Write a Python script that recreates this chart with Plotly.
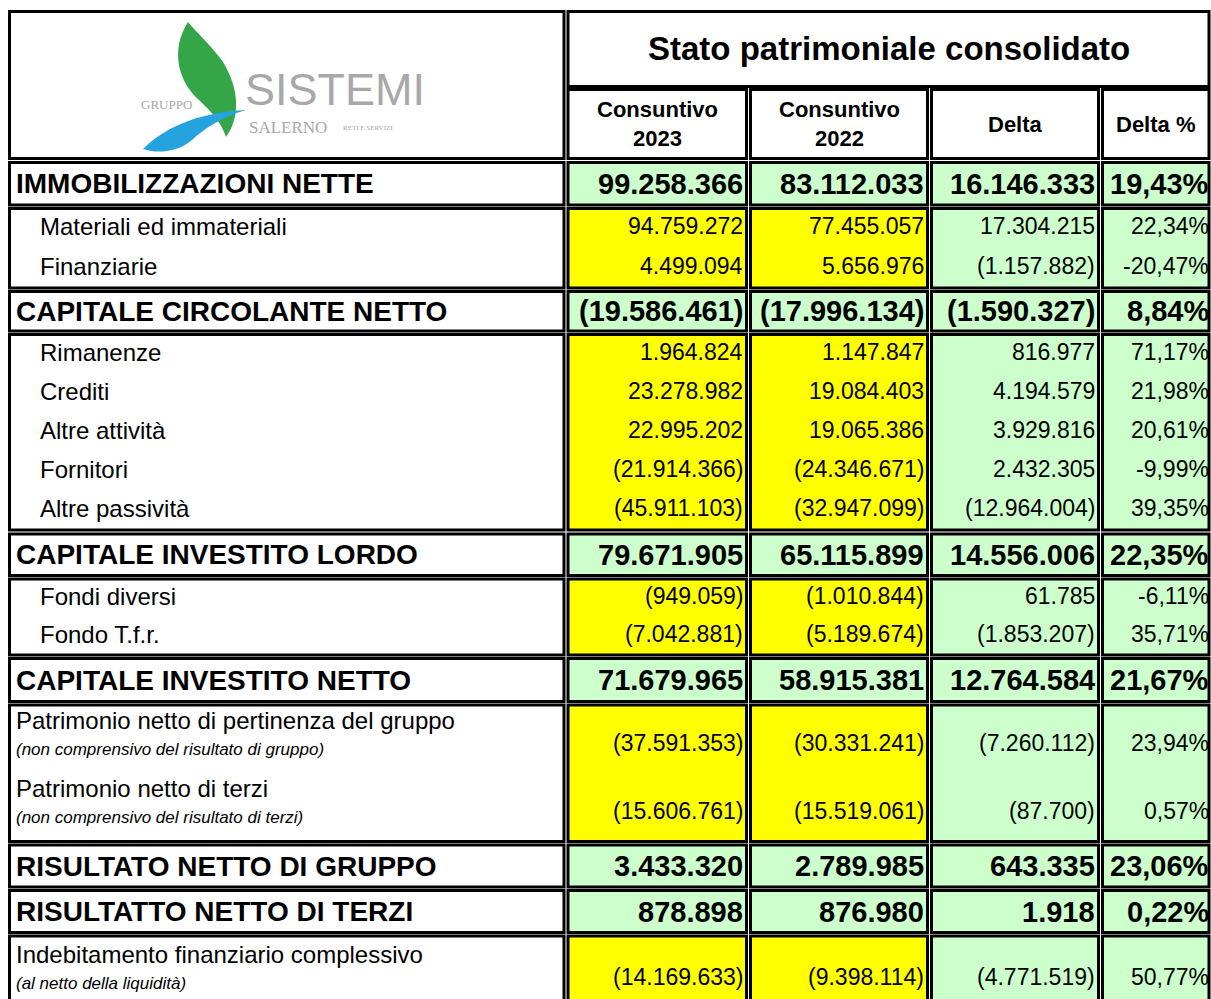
import plotly.graph_objects as go

# ---------------- data ----------------
labels = ["IMMOBILIZZAZIONI NETTE", "Materiali ed immateriali", "Finanziarie",
          "CAPITALE CIRCOLANTE NETTO", "Rimanenze", "Crediti", "Altre attività",
          "Fornitori", "Altre passività", "CAPITALE INVESTITO LORDO",
          "Fondi diversi", "Fondo T.f.r.", "CAPITALE INVESTITO NETTO",
          "Patrimonio netto di pertinenza del gruppo", "Patrimonio netto di terzi",
          "RISULTATO NETTO DI GRUPPO", "RISULTATTO NETTO DI TERZI",
          "Indebitamento finanziario complessivo"]
sublabels = ["", "", "", "", "", "", "", "", "", "", "", "", "",
             "(non comprensivo del risultato di gruppo)",
             "(non comprensivo del risultato di terzi)", "", "",
             "(al netto della liquidità)"]
row_kind = ["total", "detail", "detail", "total", "detail", "detail", "detail",
            "detail", "detail", "total", "detail", "detail", "total",
            "note", "note", "total", "total", "note"]
cons_2023 = [99258366, 94759272, 4499094, -19586461, 1964824, 23278982, 22995202,
             -21914366, -45911103, 79671905, -949059, -7042881, 71679965,
             -37591353, -15606761, 3433320, 878898, -14169633]
cons_2022 = [83112033, 77455057, 5656976, -17996134, 1147847, 19084403, 19065386,
             -24346671, -32947099, 65115899, -1010844, -5189674, 58915381,
             -30331241, -15519061, 2789985, 876980, -9398114]
delta = [16146333, 17304215, -1157882, -1590327, 816977, 4194579, 3929816,
         2432305, -12964004, 14556006, 61785, -1853207, 12764584,
         -7260112, -87700, 643335, 1918, -4771519]
delta_pct = [19.43, 22.34, -20.47, 8.84, 71.17, 21.98, 20.61, -9.99, 39.35, 22.35,
             -6.11, 35.71, 21.67, 23.94, 0.57, 23.06, 0.22, 50.77]
title_text = "Stato patrimoniale consolidato"
col_headers = ["Consuntivo<br>2023", "Consuntivo<br>2022", "Delta", "Delta %"]
row_groups = [[0], [1, 2], [3], [4, 5, 6, 7, 8], [9], [10, 11], [12], [13, 14],
              [15], [16], [17]]

# ---------------- layout constants ----------------
W, H = 1211, 999
FONT = "Liberation Sans, Arial, sans-serif"
GREEN = "#CCFFCC"
YELLOW = "#FFFF00"
LW = 3

label_x = (9.5, 564)
cols_x = [(568, 746.5), (750.5, 927.5), (931.5, 1098.5), (1102.5, 1209)]
block_y = [(162.5, 205), (208.5, 288), (291.5, 331), (334.5, 530), (534, 575.5),
           (579, 655), (658.5, 701.5), (705, 841.5), (845, 887), (890.5, 932.5),
           (936, 1010)]


def fmt_int(v):
    s = f"{abs(v):,}".replace(",", ".")
    return f"({s})" if v < 0 else s


def fmt_pct(p):
    return f"{p:.2f}".replace(".", ",") + "%"


fig = go.Figure()
fig.add_trace(go.Scatter(x=[0, W], y=[0, H], mode="markers", marker=dict(opacity=0),
                         hoverinfo="skip", showlegend=False))

shapes = []
ann = []


def rect(x0, y0, x1, y1, fill="white", lw=LW):
    shapes.append(dict(type="rect", xref="x", yref="y", x0=x0, y0=y0, x1=x1, y1=y1,
                       line=dict(color="black", width=lw), fillcolor=fill, layer="below"))


def text(x, y, s, size, xanchor="left", color="black", family=FONT, align="left"):
    ann.append(dict(x=x, y=y, xref="x", yref="y", text=s, showarrow=False,
                    xanchor=xanchor, yanchor="middle", align=align,
                    font=dict(size=size, color=color, family=family)))


# ---------------- header ----------------
rect(label_x[0], 11.5, label_x[1], 158.5)
rect(cols_x[0][0], 11.5, cols_x[3][1], 86.5)
text((cols_x[0][0] + cols_x[3][1]) / 2, 48, f"<b>{title_text}</b>", 33, xanchor="center")
for (x0, x1), h in zip(cols_x, col_headers):
    rect(x0, 89.5, x1, 158.5)
    text((x0 + x1) / 2, 124, f"<b>{h}</b>", 22, xanchor="center", align="center")

# logo (drawn)
shapes.append(dict(type="path", xref="x", yref="y",
                   path="M 188,22 C 170,50 178,82 200,101 C 212,112 222,124 226,137 "
                        "C 240,118 240,90 223,62 C 210,44 196,32 188,22 Z",
                   fillcolor="#35a648", line=dict(width=0), layer="above"))
shapes.append(dict(type="path", xref="x", yref="y",
                   path="M 143,149 C 168,124 205,112 246,110 C 222,117 205,128 192,140 "
                        "C 178,152 158,154 143,149 Z",
                   fillcolor="#25a3de", line=dict(width=0), layer="above"))
text(335, 89, "SISTEMI", 45, xanchor="center", color="#a8a8a8")
text(166, 104, "GRUPPO", 13, xanchor="center", color="#a8a8a8",
     family="Liberation Serif, serif")
text(247, 127, "SALERNO", 17, color="#a8a8a8", family="Liberation Serif, serif")
text(341, 128, "RETI E SERVIZI", 7, color="#a8a8a8", family="Liberation Serif, serif")

# ---------------- body ----------------
for grp, (y0, y1) in zip(row_groups, block_y):
    kind = row_kind[grp[0]]
    rect(label_x[0], y0, label_x[1], y1)
    for ci, (x0, x1) in enumerate(cols_x):
        fill = GREEN if (kind == "total" or ci >= 2) else YELLOW
        rect(x0, y0, x1, y1, fill=fill)
    rh = (y1 - y0) / len(grp)
    for k, i in enumerate(grp):
        yc = y0 + rh * (k + 0.5)
        vals = [fmt_int(cons_2023[i]), fmt_int(cons_2022[i]), fmt_int(delta[i]),
                fmt_pct(delta_pct[i])]
        xr = [x1 - 2 if x1 < 1200 else 1210.5 for (x0, x1) in cols_x]
        if kind == "total":
            text(14, yc, f"<b>{labels[i]}</b>", 28)
            for x, v in zip(xr, vals):
                text(x, yc, f"<b>{v}</b>", 29, xanchor="right")
        elif kind == "detail":
            text(38, yc - 2, labels[i], 24)
            for x, v in zip(xr, vals):
                text(x, yc - 2, v, 23, xanchor="right")
        else:
            text(14, yc - 19, labels[i], 24)
            text(14, yc + 10, f"<i>{sublabels[i]}</i>", 17)
            for x, v in zip(xr, vals):
                text(x, yc + 4, v, 23, xanchor="right")

fig.update_layout(
    width=W, height=H, margin=dict(l=0, r=0, t=0, b=0),
    paper_bgcolor="white", plot_bgcolor="white",
    xaxis=dict(range=[0, W], visible=False, fixedrange=True),
    yaxis=dict(range=[H, 0], visible=False, fixedrange=True),
    shapes=shapes, annotations=ann, showlegend=False,
)
fig.write_html("out.html", config={"displayModeBar": False},
               post_script="document.body.style.margin='0';"
                           "document.body.style.overflow='hidden';")
